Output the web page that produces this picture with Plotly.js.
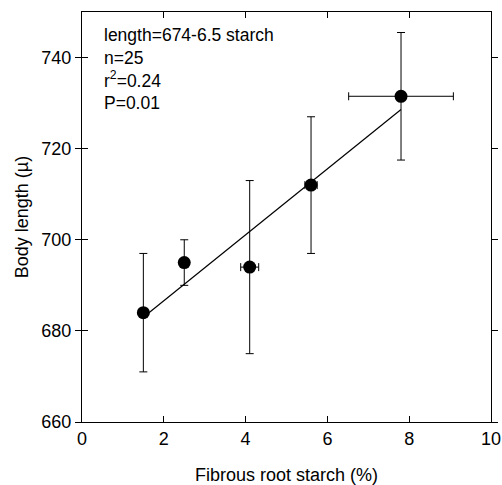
<!DOCTYPE html>
<html>
<head>
<meta charset="utf-8">
<script src="https://cdn.plot.ly/plotly-3.0.1.min.js"></script>
<style>html,body{margin:0;padding:0;background:#fff;}#chart{width:502px;height:485px;}</style>
</head>
<body>
<div id="chart"></div>
<script>
const starch = [1.5, 2.5, 4.1, 5.6, 7.8];
const bodyLength = [684, 695, 694, 712, 731.5];
const lengthErr = [13, 5, 19, 15, 14];
const starchErr = [0, 0, 0.22, 0.15, 1.28];
const fitX = [1.5, 7.8];
const fitY = [683, 728.6];
const xTicks = [0, 2, 4, 6, 8, 10];
const yTicks = [660, 680, 700, 720, 740];
const statsLines = ["length=674-6.5 starch", "n=25", "r<sup>2</sup>=0.24", "P=0.01"];

const font = "Liberation Sans, Arial, sans-serif";

const traces = [
  {x: fitX, y: fitY, mode: 'lines', type: 'scatter', line: {color: '#000', width: 1.2}, hoverinfo: 'skip', showlegend: false},
  {x: starch, y: bodyLength, mode: 'markers', type: 'scatter',
   marker: {color: '#000', size: 13},
   error_y: {type: 'data', array: lengthErr, visible: true, color: '#000', thickness: 1, width: 4},
   error_x: {type: 'data', array: starchErr, visible: true, color: '#000', thickness: 1, width: 4},
   showlegend: false},
  {x: [0], y: [660], yaxis: 'y2', mode: 'markers', marker: {opacity: 0}, hoverinfo: 'skip', showlegend: false}
];

const layout = {
  width: 502, height: 485,
  margin: {l: 82, r: 11, t: 12, b: 63},
  paper_bgcolor: '#fff', plot_bgcolor: '#fff',
  font: {family: font, color: '#000', size: 18},
  xaxis: {
    range: [0, 10], tickvals: xTicks, ticktext: xTicks.map(String),
    ticks: 'inside', ticklen: 6, tickwidth: 1, tickcolor: '#000',
    showline: true, linecolor: '#000', linewidth: 1, mirror: 'ticks',
    showgrid: false, zeroline: false,
    tickfont: {size: 18, family: font},
    title: {text: 'Fibrous root starch (%)', font: {size: 18, family: font}, standoff: 22}
  },
  yaxis: {
    range: [660, 750], tickvals: yTicks, ticktext: yTicks.map(String),
    ticks: 'outside', ticklen: 6, tickwidth: 1, tickcolor: '#000',
    showline: true, linecolor: '#000', linewidth: 1, mirror: 'ticks',
    showgrid: false, zeroline: false,
    tickfont: {size: 18, family: font},
    title: {text: 'Body length (\u00b5)', font: {size: 18, family: font}, standoff: 8}
  },
  yaxis2: {
    overlaying: 'y', side: 'left', range: [660, 750], tickvals: yTicks,
    ticks: 'inside', ticklen: 6, tickwidth: 1, tickcolor: '#000',
    showticklabels: false, showline: false, showgrid: false, zeroline: false
  },
  annotations: [{
    xref: 'paper', yref: 'paper', x: 0.048, y: 0.972, xanchor: 'left', yanchor: 'top',
    align: 'left', showarrow: false,
    text: statsLines.join('<br>'),
    font: {size: 17.5, family: font, color: '#000'}
  }]
};

Plotly.newPlot('chart', traces, layout, {displayModeBar: false, staticPlot: true});
</script>
</body>
</html>
